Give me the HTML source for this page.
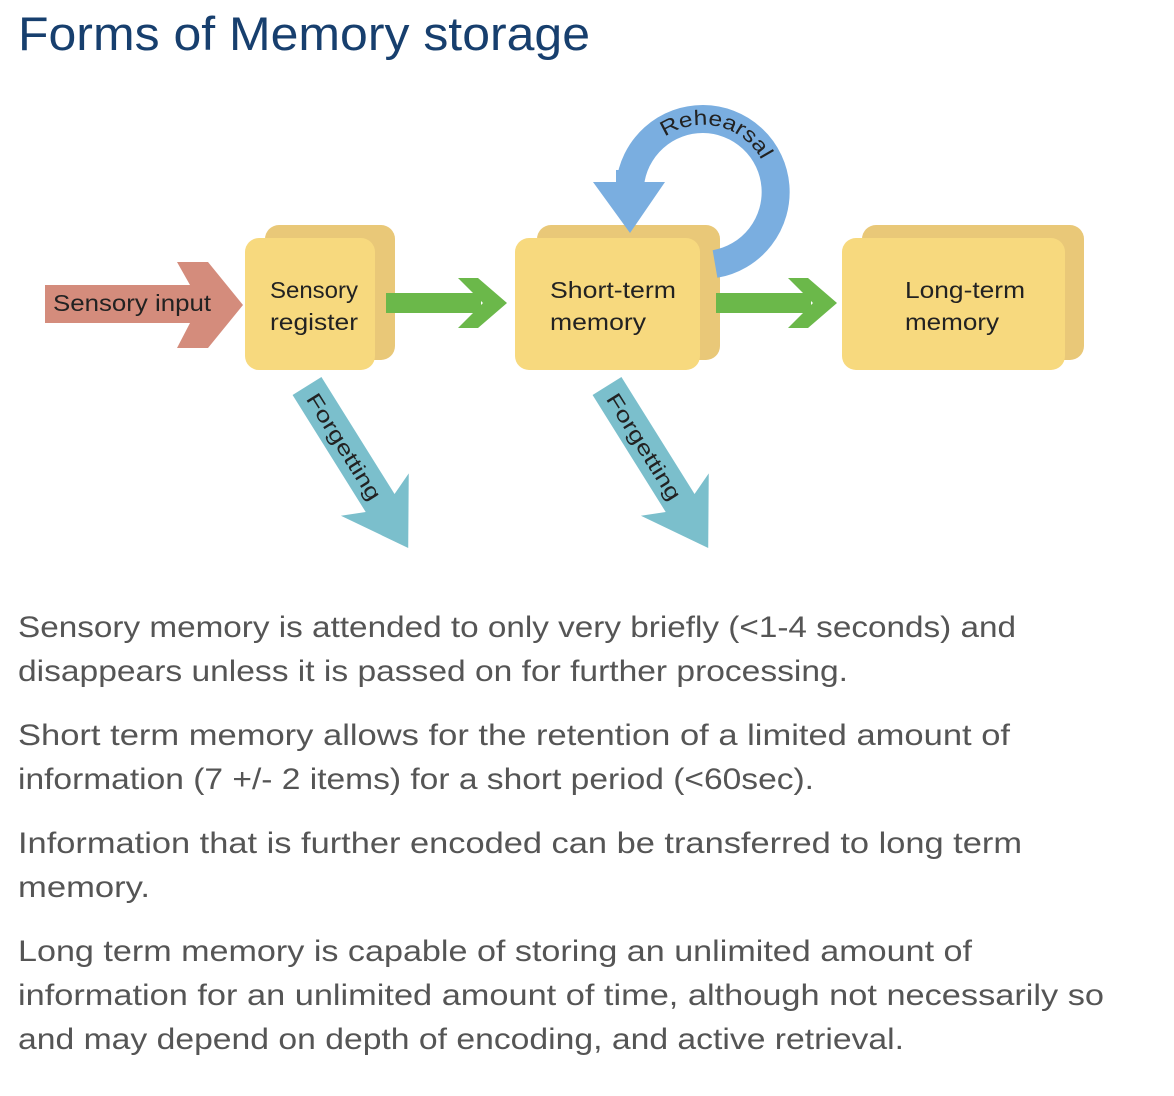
<!DOCTYPE html>
<html><head><meta charset="utf-8"><style>
html,body{margin:0;padding:0;background:#fff;}
svg{display:block;}
.p{font-family:"Liberation Sans",sans-serif;font-size:30px;fill:#555;}
.b{font-family:"Liberation Sans",sans-serif;font-size:23px;fill:#222;}
</style></head><body>
<svg width="1174" height="1096" viewBox="0 0 1174 1096" xmlns="http://www.w3.org/2000/svg">
<text x="18" y="50" font-family="Liberation Sans, sans-serif" font-size="47" fill="#173f6e" textLength="572" lengthAdjust="spacingAndGlyphs">Forms of Memory storage</text>

<!-- sensory input arrow -->
<polygon points="45,285 190,285 177,262 208,262 243,305 208,348 177,348 190,323 45,323" fill="#d48c7c"/>
<text x="53" y="311" class="b" textLength="158" lengthAdjust="spacingAndGlyphs">Sensory input</text>

<!-- sensory register -->
<rect x="265" y="225" width="130" height="135" rx="14" fill="#e9c878"/>
<rect x="245" y="238" width="130" height="132" rx="14" fill="#f7d97e"/>
<text x="270" y="298" class="b" textLength="88" lengthAdjust="spacingAndGlyphs">Sensory</text>
<text x="270" y="330" class="b" textLength="88" lengthAdjust="spacingAndGlyphs">register</text>

<!-- green arrow 1 -->
<rect x="386" y="293" width="95" height="20" fill="#6bb84a"/>
<polygon points="458,278 478,278 507,303 478,328 458,328 483,303" fill="#6bb84a"/>

<!-- STM -->
<rect x="537" y="225" width="183" height="135" rx="14" fill="#e9c878"/>
<rect x="515" y="238" width="185" height="132" rx="14" fill="#f7d97e"/>
<text x="550" y="298" class="b" textLength="126" lengthAdjust="spacingAndGlyphs">Short-term</text>
<text x="550" y="330" class="b" textLength="96" lengthAdjust="spacingAndGlyphs">memory</text>

<!-- rehearsal arc -->
<path d="M715,264 A73,73 0 1 0 630,185" fill="none" stroke="#7aaee0" stroke-width="28"/>
<polygon points="593,182 616,182 616,170 644,170 644,182 665,182 630,233" fill="#7aaee0"/>
<path id="rh" d="M665,137 A66,66 0 0 1 763,163" fill="none"/>
<text font-family="Liberation Sans, sans-serif" font-size="21" fill="#222"><textPath href="#rh" textLength="112" lengthAdjust="spacingAndGlyphs">Rehearsal</textPath></text>

<!-- green arrow 2 -->
<rect x="716" y="293" width="95" height="20" fill="#6bb84a"/>
<polygon points="788,278 808,278 837,303 808,328 788,328 813,303" fill="#6bb84a"/>

<!-- LTM -->
<rect x="862" y="225" width="222" height="135" rx="14" fill="#e9c878"/>
<rect x="842" y="238" width="223" height="132" rx="14" fill="#f7d97e"/>
<text x="905" y="298" class="b" textLength="120" lengthAdjust="spacingAndGlyphs">Long-term</text>
<text x="905" y="330" class="b" textLength="94" lengthAdjust="spacingAndGlyphs">memory</text>

<!-- forgetting arrows -->
<g transform="translate(307,386) rotate(58)">
<polygon points="0,-17 138,-17 128,-40 191,0 128,40 138,17 0,17" fill="#7bbfcc"/>
<text x="10" y="8" font-family="Liberation Sans, sans-serif" font-size="21" fill="#222" textLength="122" lengthAdjust="spacingAndGlyphs">Forgetting</text>
</g>
<g transform="translate(607,386) rotate(58)">
<polygon points="0,-17 138,-17 128,-40 191,0 128,40 138,17 0,17" fill="#7bbfcc"/>
<text x="10" y="8" font-family="Liberation Sans, sans-serif" font-size="21" fill="#222" textLength="122" lengthAdjust="spacingAndGlyphs">Forgetting</text>
</g>

<!-- paragraphs -->
<text class="p" x="18" y="637" textLength="998" lengthAdjust="spacingAndGlyphs">Sensory memory is attended to only very briefly (&lt;1-4 seconds) and</text>
<text class="p" x="18" y="681" textLength="830" lengthAdjust="spacingAndGlyphs">disappears unless it is passed on for further processing.</text>
<text class="p" x="18" y="745" textLength="992" lengthAdjust="spacingAndGlyphs">Short term memory allows for the retention of a limited amount of</text>
<text class="p" x="18" y="789" textLength="796" lengthAdjust="spacingAndGlyphs">information (7 +/- 2 items) for a short period (&lt;60sec).</text>
<text class="p" x="18" y="853" textLength="1004" lengthAdjust="spacingAndGlyphs">Information that is further encoded can be transferred to long term</text>
<text class="p" x="18" y="897" textLength="132" lengthAdjust="spacingAndGlyphs">memory.</text>
<text class="p" x="18" y="961" textLength="954" lengthAdjust="spacingAndGlyphs">Long term memory is capable of storing an unlimited amount of</text>
<text class="p" x="18" y="1005" textLength="1086" lengthAdjust="spacingAndGlyphs">information for an unlimited amount of time, although not necessarily so</text>
<text class="p" x="18" y="1049" textLength="886" lengthAdjust="spacingAndGlyphs">and may depend on depth of encoding, and active retrieval.</text>
</svg>
</body></html>
